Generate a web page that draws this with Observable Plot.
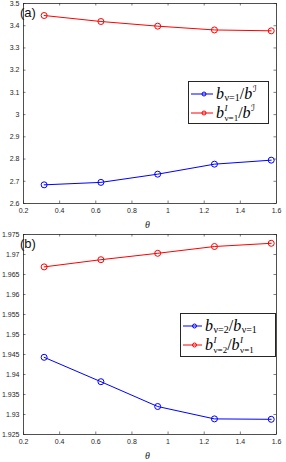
<!DOCTYPE html>
<html><head><meta charset="utf-8">
<script src="https://cdn.jsdelivr.net/npm/d3@7"></script>
<script src="https://cdn.jsdelivr.net/npm/@observablehq/plot@0.6"></script>
<style>
html,body{margin:0;padding:0;background:#fff;}
.panel{position:relative;width:286px;height:231px;}
.panel svg{display:block;}
.lab{position:absolute;font-family:"Liberation Sans",Arial,sans-serif;font-size:13px;color:#111;}
.theta{position:absolute;font-family:"Liberation Serif",serif;font-style:italic;font-size:10px;color:#262626;}
.legend{position:absolute;background:#fff;border:1px solid #262626;box-sizing:border-box;}
.row{position:absolute;left:0;height:20px;display:flex;align-items:center;}
.row svg{flex:none;}
.m{font-family:"Liberation Serif","DejaVu Serif",serif;font-size:16px;line-height:20px;color:#000;white-space:nowrap;display:flex;align-items:center;}
.m i{font-style:italic;}
.ss{display:inline-flex;flex-direction:column;font-size:9px;line-height:10px;margin-left:0.5px;}
.ss span{display:block;height:10px;}
.sub{font-size:10px;position:relative;top:4px;margin-left:0.5px;}
.sup{font-size:10px;position:relative;top:-5px;margin-left:0.5px;}
.cal{font-family:"DejaVu Sans",sans-serif;font-style:normal;font-size:9px;}
</style></head>
<body>
<div id="a" class="panel"></div>
<div id="b" class="panel"></div>
<script>
const theta = [0.3142, 0.6283, 0.9425, 1.2566, 1.5708];
const xTicks = [0.2, 0.4, 0.6, 0.8, 1.0, 1.2, 1.4, 1.6];

const blueA = [2.684, 2.695, 2.732, 2.777, 2.795];
const redA  = [3.446, 3.419, 3.398, 3.381, 3.377];
const yTicksA = [2.6, 2.7, 2.8, 2.9, 3.0, 3.1, 3.2, 3.3, 3.4, 3.5];

const blueB = [1.9443, 1.9382, 1.9320, 1.9289, 1.9288];
const redB  = [1.9669, 1.9687, 1.9703, 1.9720, 1.9728];
const yTicksB = [1.925, 1.93, 1.935, 1.94, 1.945, 1.95, 1.955, 1.96, 1.965, 1.97, 1.975];

const fmt = d => String(+d.toFixed(3));
const W = 286, H = 231, mL = 23, mR = 10, mT = 3, mB = 28;
const pw = W - mL - mR, ph = H - mT - mB;
const AX = "#262626";

function panel(id, yTicks, blue, red, label, legendPos, legendHTML) {
  const series = [{v: blue, c: "#0000ff"}, {v: red, c: "#ff0000"}];
  const marks = [
    Plot.axisX(xTicks, {tickSize: 0, tickPadding: 5, tickFormat: fmt, fill: AX}),
    Plot.axisY(yTicks, {tickSize: 0, tickPadding: 4, tickFormat: fmt, fill: AX}),
    Plot.tickX(xTicks, {x: d => d, insetTop: ph - 2.5, stroke: AX, strokeWidth: 0.6}),
    Plot.tickX(xTicks, {x: d => d, insetBottom: ph - 2.5, stroke: AX, strokeWidth: 0.6}),
    Plot.tickY(yTicks, {y: d => d, insetRight: pw - 2.5, stroke: AX, strokeWidth: 0.6}),
    Plot.tickY(yTicks, {y: d => d, insetLeft: pw - 2.5, stroke: AX, strokeWidth: 0.6}),
    Plot.frame({stroke: AX, strokeWidth: 0.8})
  ];
  for (const s of series) {
    marks.push(Plot.line(theta, {x: d => d, y: (d, i) => s.v[i], stroke: s.c, strokeWidth: 1}));
    marks.push(Plot.dot(theta, {x: d => d, y: (d, i) => s.v[i], stroke: s.c, r: 3, strokeWidth: 1}));
  }
  const chart = Plot.plot({
    width: W, height: H, marginLeft: mL, marginRight: mR, marginTop: mT, marginBottom: mB,
    x: {domain: [0.2, 1.6], label: null},
    y: {domain: [yTicks[0], yTicks[yTicks.length - 1]], label: null},
    style: {fontFamily: "Liberation Sans, Arial, sans-serif", fontSize: "7px", color: AX, background: "white", overflow: "visible"},
    marks
  });
  const host = document.getElementById(id);
  host.appendChild(chart);
  const lab = document.createElement("div");
  lab.className = "lab"; lab.textContent = label;
  lab.style.left = "20px"; lab.style.top = "5px";
  host.appendChild(lab);
  const th = document.createElement("div");
  th.className = "theta"; th.textContent = "θ";
  th.style.left = "145px"; th.style.top = "219px";
  host.appendChild(th);
  const lg = document.createElement("div");
  lg.className = "legend";
  Object.assign(lg.style, {left: legendPos[0] + "px", top: legendPos[1] + "px", width: legendPos[2] + "px", height: legendPos[3] + "px"});
  series.forEach((s, i) => {
    const row = document.createElement("div");
    row.className = "row";
    row.style.top = (2 + i * 19) + "px";
    row.innerHTML = `<svg width="${legendPos[4]}" height="20"><line x1="2" x2="${legendPos[4] - 3}" y1="10" y2="10" stroke="${s.c}" stroke-width="1"/><circle cx="${(legendPos[4] - 1) / 2 + 2}" cy="10" r="2" fill="none" stroke="${s.c}" stroke-width="1"/></svg><span class="m">${legendHTML[i]}</span>`;
    lg.appendChild(row);
  });
  host.appendChild(lg);
}

const calI = '<span class="cal">ℐ</span>';
panel("a", yTicksA, blueA, redA, "(a)", [188, 81, 81, 43, 27], [
  `<i>b</i><span class="sub">ν=1</span>/<i>b</i><span class="sup">${calI}</span>`,
  `<i>b</i><span class="ss"><span><i>I</i></span><span>ν=1</span></span>/<i>b</i><span class="sup">${calI}</span>`
]);
panel("b", yTicksB, blueB, redB, "(b)", [180, 82, 96, 44, 24], [
  `<i>b</i><span class="sub">ν=2</span>/<i>b</i><span class="sub">ν=1</span>`,
  `<i>b</i><span class="ss"><span><i>I</i></span><span>ν=2</span></span>/<i>b</i><span class="ss"><span><i>I</i></span><span>ν=1</span></span>`
]);
</script>
</body></html>
